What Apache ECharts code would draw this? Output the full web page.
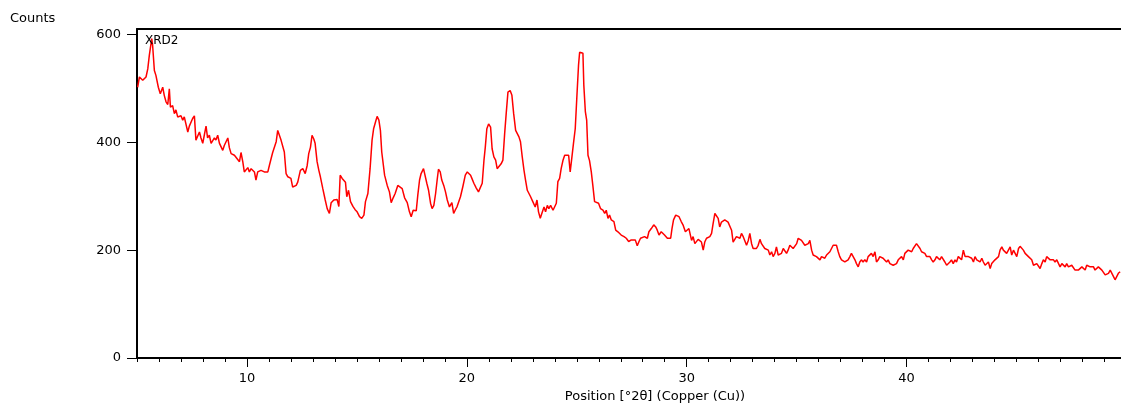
<!DOCTYPE html>
<html>
<head>
<meta charset="utf-8">
<script src="https://cdn.jsdelivr.net/npm/echarts@6/dist/echarts.min.js"></script>
<style>
html,body{margin:0;padding:0;background:#fff;}
#chart{width:1121px;height:404px;}
</style>
</head>
<body>
<div id="chart"></div>
<script>
// Position (°2θ)
const positions = [
5.03,5.11,5.26,5.41,5.49,5.56,5.67,5.71,5.79,5.86,5.91,5.97,6.06,6.17,6.24,6.32,6.40,6.47,6.52,6.62,6.70,6.77,6.85,7.00,7.08,7.15,7.31,7.38,7.46,7.53,7.61,7.68,7.84,7.91,7.99,8.06,8.14,8.21,8.29,8.37,8.52,8.59,8.67,8.75,8.90,8.97,9.13,9.20,9.28,9.43,9.50,9.66,9.73,9.81,9.88,10.04,10.11,10.19,10.34,10.41,10.49,10.64,10.79,10.95,11.02,11.10,11.17,
11.25,11.33,11.40,11.48,11.55,11.63,11.70,11.78,11.86,12.00,12.08,12.16,12.24,12.31,12.43,12.54,12.65,12.74,12.81,12.89,12.96,13.04,13.10,13.19,13.27,13.34,13.45,13.56,13.65,13.75,13.83,13.95,14.10,14.18,14.24,14.33,14.41,14.48,14.54,14.62,14.71,14.82,14.92,15.01,15.12,15.22,15.32,15.39,15.50,15.60,15.69,15.76,15.85,15.92,16.00,16.07,16.13,16.26,16.38,16.48,16.56,16.65,16.74,16.86,16.95,17.06,17.17,17.29,17.39,17.47,17.56,
17.62,17.70,17.77,17.85,17.92,18.03,18.10,18.18,18.26,18.35,18.42,18.50,18.58,18.65,18.71,18.79,18.86,18.95,19.03,19.11,19.21,19.32,19.40,19.47,19.55,19.64,19.71,19.82,19.93,20.02,20.09,20.17,20.23,20.32,20.43,20.53,20.61,20.70,20.78,20.84,20.91,20.99,21.08,21.15,21.23,21.31,21.38,21.46,21.56,21.64,21.72,21.79,21.87,21.97,22.05,22.13,22.22,22.29,22.37,22.44,22.52,22.60,22.67,22.75,22.82,22.90,23.00,23.11,23.19,23.26,23.34,23.41,23.51,23.58,23.66,23.73,23.81,23.92,
23.99,24.07,24.14,24.22,24.29,24.37,24.45,24.52,24.63,24.70,24.78,24.85,24.93,25.00,25.08,25.13,25.20,25.28,25.32,25.39,25.45,25.51,25.58,25.66,25.73,25.81,25.90,25.99,26.08,26.19,26.27,26.34,26.42,26.49,26.57,26.69,26.77,26.87,26.95,27.02,27.15,27.25,27.36,27.48,27.55,27.66,27.75,27.83,27.90,27.98,28.08,28.21,28.28,28.39,28.50,28.59,28.66,28.74,28.84,28.92,28.99,29.12,29.19,29.27,29.33,29.40,29.50,29.57,29.65,29.75,29.83,29.94,30.01,30.10,
30.14,30.22,30.29,30.37,30.44,30.52,30.60,30.67,30.75,30.82,30.90,30.97,31.05,31.13,31.20,31.28,31.35,31.43,31.50,31.58,31.66,31.73,31.81,31.88,31.96,32.04,32.11,32.19,32.26,32.34,32.42,32.49,32.57,32.64,32.72,32.80,32.87,32.95,33.02,33.10,33.17,33.25,33.33,33.40,33.48,33.55,33.63,33.71,33.78,33.86,33.93,34.01,34.08,34.16,34.24,34.31,34.39,34.46,34.54,34.61,34.69,34.77,34.84,34.92,35.00,35.07,35.15,35.22,35.30,35.37,35.45,35.53,35.60,35.68,35.75,35.83,35.90,35.98,36.06,36.13,36.21,
36.28,36.36,36.43,36.51,36.58,36.66,36.74,36.81,36.89,36.96,37.04,37.11,37.19,37.27,37.34,37.42,37.49,37.57,37.65,37.72,37.80,37.87,37.95,38.02,38.10,38.18,38.25,38.33,38.40,38.48,38.56,38.63,38.71,38.78,38.86,38.93,39.01,39.09,39.16,39.24,39.31,39.39,39.47,39.54,39.62,39.69,39.77,39.85,39.92,40.00,40.07,40.15,40.23,40.30,40.38,40.45,40.53,40.61,40.68,40.76,40.83,40.91,40.98,41.06,41.14,41.21,41.29,41.36,41.44,41.51,41.59,41.67,41.74,41.82,41.89,41.97,42.04,42.12,42.20,42.27,42.35,
42.43,42.50,42.58,42.66,42.73,42.81,42.88,42.96,43.04,43.11,43.19,43.26,43.34,43.42,43.49,43.57,43.64,43.72,43.80,43.87,43.95,44.02,44.10,44.18,44.25,44.33,44.40,44.48,44.55,44.63,44.71,44.78,44.86,44.93,45.01,45.09,45.16,45.24,45.31,45.39,45.46,45.54,45.62,45.69,45.77,45.84,45.92,46.00,46.07,46.15,46.22,46.30,46.37,46.45,46.53,46.60,46.68,46.75,46.83,46.91,46.98,47.06,47.13,47.21,47.28,47.36,47.44,47.51,47.59,47.66,47.74,47.81,47.89,47.97,48.04,48.12,48.19,48.27,48.35,48.42,48.50,48.57,48.65,48.72,48.80,48.88,48.95,49.03,49.10,49.18,49.26,49.33,49.41,49.48,49.56,49.63,49.71
];
// Counts
const counts = [
502,521,515,521,536,561,592,580,533,524,526,502,490,502,487,475,470,499,465,468,453,460,447,449,441,447,419,430,427,444,449,404,419,408,398,413,430,408,413,398,408,404,413,398,385,394,408,390,379,376,373,364,381,364,345,353,345,351,345,330,345,348,345,345,357,370,381,
382,401,422,425,404,406,382,342,336,333,317,316,320,326,348,351,342,357,379,391,413,406,398,364,348,336,314,293,277,268,288,293,294,281,339,333,336,326,299,311,290,281,275,271,262,259,265,290,305,351,404,425,438,448,441,422,382,339,320,308,288,297,305,320,323,314,297,288,271,262,274,
271,273,302,330,342,351,348,324,311,287,277,283,305,330,350,345,330,320,308,293,280,288,268,274,280,282,299,318,339,345,348,339,333,324,315,308,305,324,367,391,425,434,428,388,373,367,351,354,360,367,416,453,493,496,487,453,422,419,410,401,373,348,330,311,314,299,290,280,293,271,259,268,280,271,283,277,283,274,
274,287,327,333,351,366,376,379,376,345,373,398,425,481,543,567,567,565,506,457,441,376,366,345,320,290,293,287,277,274,268,274,259,265,256,253,237,234,231,228,225,222,216,219,222,219,208,216,222,219,225,222,234,240,247,243,237,228,234,234,228,222,219,222,240,256,265,268,262,253,247,234,231,240,
240,218,225,212,209,220,218,215,200,215,222,222,225,231,249,268,267,259,243,252,249,256,257,252,249,237,215,215,225,228,222,231,225,222,209,218,231,212,203,206,203,209,220,212,209,203,200,200,191,197,188,194,206,191,188,194,203,200,194,200,209,212,203,206,212,222,225,218,215,209,206,212,218,200,191,191,188,185,182,188,185,
185,191,188,197,194,209,206,209,197,188,182,185,178,175,182,188,194,194,182,175,169,178,182,178,182,178,188,191,194,188,197,178,182,188,191,185,182,178,182,175,178,172,169,175,182,185,188,182,194,197,200,203,197,203,206,212,209,203,197,200,194,188,185,188,182,178,182,188,191,182,188,185,178,172,169,178,182,175,182,178,188,
188,182,200,188,191,188,191,185,178,188,182,185,178,185,178,172,169,178,166,175,178,182,185,188,200,206,200,197,194,200,206,191,200,203,188,203,207,206,200,194,191,188,185,182,172,169,175,178,166,175,182,178,188,191,182,185,182,178,182,175,169,175,172,169,175,169,166,172,169,163,166,163,160,169,166,163,172,175,169,172,169,163,166,169,166,163,166,154,151,157,163,160,151,145,148,157,160
];
const yTicks = [0, 200, 400, 600];
const xLabels = [10, 20, 30, 40];
const seriesName = 'XRD2';

const data = positions.map((p, i) => [p, counts[i]]);
const font = 'DejaVu Sans';
const fs = 13;

const chart = echarts.init(document.getElementById('chart'), null, {renderer: 'canvas'});
chart.setOption({
  animation: false,
  backgroundColor: '#fff',
  title: {
    text: seriesName,
    left: 140, top: 30,
    textStyle: {fontFamily: font, fontSize: 12, fontWeight: 'normal', color: '#000'}
  },
  grid: {
    left: 137, top: 29, right: 0, bottom: 46,
    outerBoundsMode: 'none',
    containLabel: false,
    show: false
  },
  xAxis: [{
    type: 'value',
    min: 5, max: 49.75,
    name: 'Position [°2θ] (Copper (Cu))',
    nameLocation: 'middle',
    nameGap: 32,
    nameTextStyle: {fontFamily: font, fontSize: fs, color: '#000', padding: [0, 0, 0, 52]},
    axisLine: {show: true, lineStyle: {color: '#000', width: 2}},
    axisTick: {show: true, customValues: xLabels, length: 9, lineStyle: {color: '#000', width: 1}},
    axisLabel: {customValues: xLabels, fontFamily: font, fontSize: fs, color: '#000', margin: 14},
    splitLine: {show: false}
  }, {
    type: 'value',
    position: 'bottom',
    min: 5, max: 49.75, interval: 1,
    axisLine: {show: false},
    axisTick: {show: true, length: 4, lineStyle: {color: '#000', width: 1}},
    axisLabel: {show: false},
    splitLine: {show: false}
  }, {
    type: 'value',
    position: 'top',
    min: 5, max: 49.75,
    axisLine: {show: true, lineStyle: {color: '#000', width: 2}},
    axisTick: {show: false},
    axisLabel: {show: false},
    splitLine: {show: false}
  }],
  yAxis: {
    type: 'value',
    min: 0, max: 610,
    name: 'Counts',
    nameLocation: 'end',
    nameGap: 0,
    nameTextStyle: {fontFamily: font, fontSize: fs, color: '#000', align: 'left', verticalAlign: 'bottom', padding: [0, 0, 4, -127]},
    axisLine: {show: true, lineStyle: {color: '#000', width: 2}},
    axisTick: {show: true, customValues: yTicks, length: 10, lineStyle: {color: '#000', width: 1}},
    axisLabel: {customValues: yTicks, fontFamily: font, fontSize: fs, color: '#000', margin: 16},
    splitLine: {show: false}
  },
  series: [{
    name: seriesName,
    type: 'line',
    xAxisIndex: 0,
    data: data,
    showSymbol: false,
    symbol: 'none',
    lineStyle: {color: '#ff0000', width: 1.5},
    clip: true
  }]
});
</script>
</body>
</html>
